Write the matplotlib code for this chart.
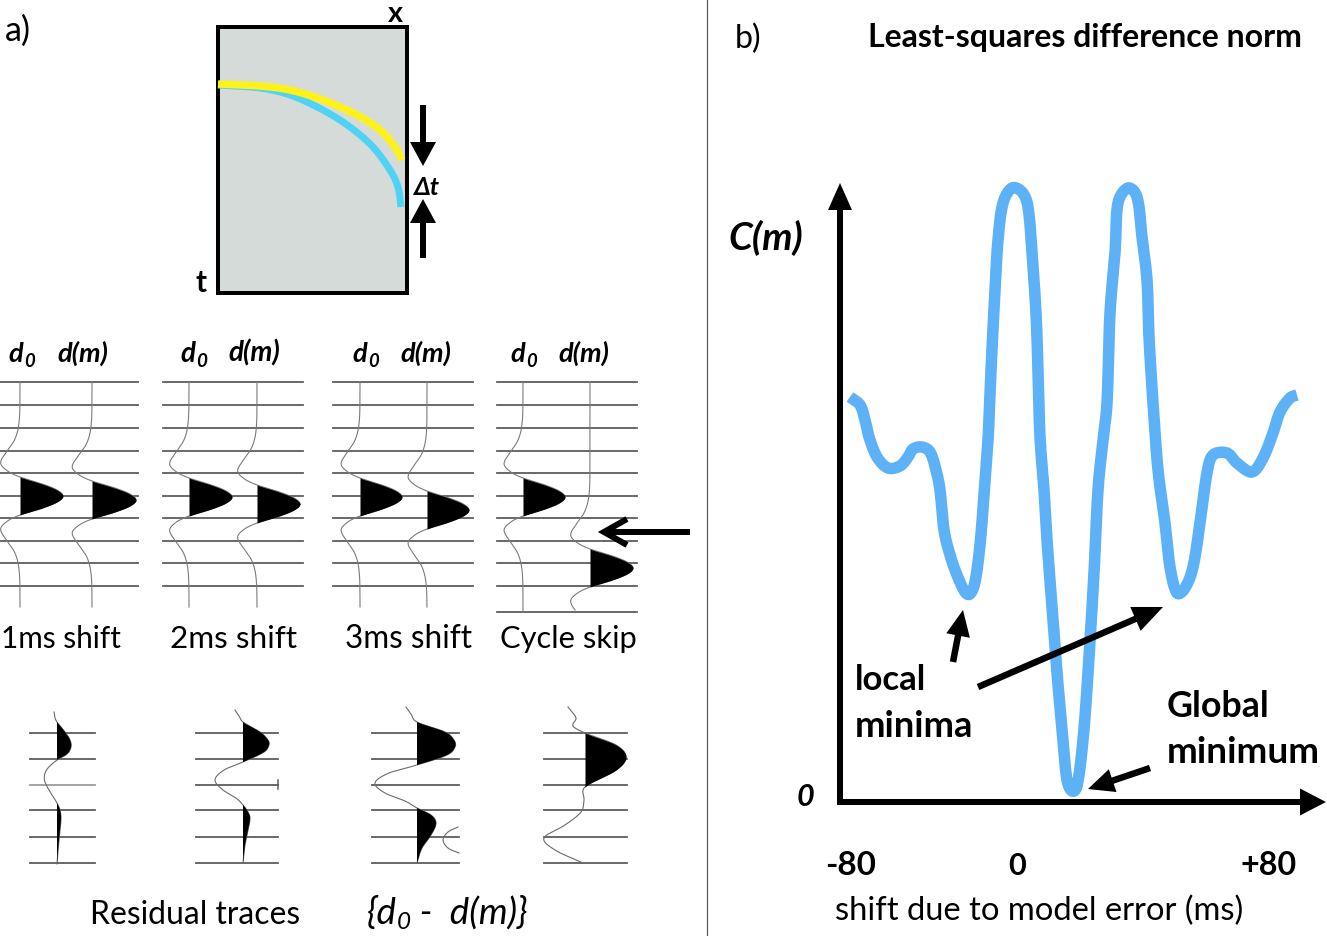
import numpy as np
import matplotlib
matplotlib.use("Agg")
import matplotlib.pyplot as plt
from matplotlib.patches import Polygon, Rectangle

# ------------------------------------------------------------------ data
# Panel b: least-squares misfit curve
# (horizontal position and height, in figure pixels, y measured down)
misfit_x = [850, 860, 865, 869, 877, 888, 900, 908, 913, 922, 930, 936, 940, 944, 950,
            957, 965, 970, 975, 980, 984, 988, 991, 995, 998, 1003, 1012, 1022, 1028, 1032,
            1036, 1038, 1040, 1044, 1047, 1052, 1057, 1063, 1067, 1072, 1077, 1083, 1088, 1094,
            1098, 1103, 1107, 1110, 1115, 1118, 1128, 1137, 1142, 1147, 1149, 1153, 1158, 1165,
            1170, 1177, 1185, 1193, 1200, 1207, 1213, 1227, 1237, 1252, 1263, 1273, 1280, 1290, 1297]
misfit_y = [397, 405, 420, 437, 457, 468, 466, 457, 449, 447, 452, 470, 490, 530, 555,
            575, 592, 594, 582, 545, 495, 440, 370, 290, 240, 203, 188, 192, 207, 253,
            313, 370, 437, 490, 540, 607, 673, 740, 780, 791, 786, 740, 673, 573,
            490, 440, 403, 313, 253, 203, 188, 197, 237, 280, 337, 403, 470, 523,
            567, 593, 588, 567, 523, 473, 455, 453, 463, 472, 458, 433, 412, 398, 395]
shift_tick_labels = ["-80", "0", "+80"]

# Panel a: travel-time curves in the x-t box
obs_curve_x = [218, 260, 290, 323, 357, 380, 395, 402]
obs_curve_y = [84, 86, 90, 100, 115, 130, 147, 160]
mod_curve_x = [218, 260, 290, 323, 350, 373, 390, 398, 401]
mod_curve_y = [85, 88, 95, 110, 127, 147, 170, 187, 207]

# Wavelet shape (time offset from peak, relative amplitude)
wavelet_dt = [-100, -80, -66, -55, -45, -33, -25, -19, -12, -6, 0, 6, 12, 19, 25, 33, 45, 55, 66, 80, 100]
wavelet_amp = [0, -0.01, -0.05, -0.14, -0.30, -0.45, -0.29, 0, 0.52, 0.86, 1, 0.86, 0.52, 0,
               -0.29, -0.45, -0.30, -0.14, -0.05, -0.01, 0]

shift_labels = ["1ms shift", "2ms shift", "3ms shift", "Cycle skip"]
d0_peak = [496, 497, 497, 497]
dm_peak = [500, 504, 510, 568]
d0_gain = [43, 43, 42, 42]
dm_gain = [44, 43, 42, 43]

# Residual traces d0 - d(m): (time, amplitude)
res1_t = [712, 718, 722, 732, 740, 747, 754, 760, 768, 775, 782, 790, 798, 803, 810, 818, 830, 845, 864]
res1_a = [-3, -2, 0, 8, 13, 14, 10, 0, -9, -12.5, -12, -8, -3, 0, 3, 4, 3, 1.5, 0]
res2_t = [710, 716, 722, 732, 740, 745, 752, 762, 770, 780, 790, 798, 805, 812, 818, 830, 845, 863]
res2_a = [-8, -4, 0, 17, 25, 26, 21, 0, -19, -28, -20, -7, 0, 5, 7, 5, 2, 0]
res3_t = [707, 714, 722, 732, 740, 747, 755, 765, 773, 783, 793, 801, 808, 815, 823, 835, 848, 863]
res3_a = [-11, -6, 0, 28, 37, 38, 30, 0, -28, -42, -32, -12, 0, 14, 19, 14, 5, 0]
res4_t = [707, 718, 726, 733, 745, 757, 770, 787, 800, 812, 825, 838, 850, 863]
res4_a = [-17, -9, -12, 0, 31, 41, 31, 0, -1, -4, -20, -41, -30, -2]

# ------------------------------------------------------------------ layout
W, H = 1327, 936
PX = 0.72  # points per pixel at dpi 100
FAM = ['Lato', 'DejaVu Sans']

fig = plt.figure(figsize=(W / 100, H / 100), dpi=100)
ax = fig.add_axes([0, 0, 1, 1])
ax.set_xlim(0, W)
ax.set_ylim(H, 0)
ax.axis('off')
fig.canvas.draw()
R = fig.canvas.get_renderer()


def hermite(t, v, n=400):
    t = np.asarray(t, float)
    v = np.asarray(v, float)
    m = np.zeros_like(v)
    m[1:-1] = (v[2:] - v[:-2]) / (t[2:] - t[:-2])
    m[0] = (v[1] - v[0]) / (t[1] - t[0])
    m[-1] = (v[-1] - v[-2]) / (t[-1] - t[-2])
    tt = np.linspace(t[0], t[-1], n)
    i = np.clip(np.searchsorted(t, tt) - 1, 0, len(t) - 2)
    h = t[i + 1] - t[i]
    s = (tt - t[i]) / h
    h00 = 2 * s**3 - 3 * s**2 + 1
    h10 = s**3 - 2 * s**2 + s
    h01 = -2 * s**3 + 3 * s**2
    h11 = s**3 - s**2
    return tt, h00 * v[i] + h10 * h * m[i] + h01 * v[i + 1] + h11 * h * m[i + 1]


def smooth_path(xs, ys, n=1200):
    xs = np.asarray(xs, float)
    ys = np.asarray(ys, float)
    d = np.hypot(np.diff(xs), np.diff(ys))
    s = np.concatenate([[0], np.cumsum(np.sqrt(d))])
    _, xx = hermite(s, xs, n)
    _, yy = hermite(s, ys, n)
    return xx, yy


def arrow(x0, y0, x1, y1, lw=6, hl=26, hw=26, color='black'):
    d = np.hypot(x1 - x0, y1 - y0)
    ux, uy = (x1 - x0) / d, (y1 - y0) / d
    bx, by = x1 - ux * hl, y1 - uy * hl
    ax.plot([x0, bx + ux * 2], [y0, by + uy * 2], color=color, lw=lw * PX,
            solid_capstyle='butt', zorder=5)
    nx, ny = -uy, ux
    ax.add_patch(Polygon([(x1, y1), (bx + nx * hw / 2, by + ny * hw / 2),
                          (bx - nx * hw / 2, by - ny * hw / 2)], closed=True,
                         facecolor=color, edgecolor='none', zorder=5))


def put(s, x0, x1, base, weight='normal', style='normal', family=FAM, color='black'):
    t = ax.text(x0, base, s, fontsize=10, fontweight=weight, fontstyle=style,
                family=family, ha='left', va='baseline', color=color)
    w = t.get_window_extent(renderer=R).width
    t.set_fontsize(10 * (x1 - x0) / w)
    return t


def width_of(s, size, weight='normal', style='normal'):
    t = ax.text(0, 0, s, fontsize=size, fontweight=weight, fontstyle=style, family=FAM)
    w = t.get_window_extent(renderer=R).width
    t.remove()
    return w


# divider
ax.plot([707, 707], [0, H], color='#555555', lw=1.2 * PX)

# ------------------------------------------------------------------ panel a
put("a)", 5, 31, 41)
ax.add_patch(Rectangle((218, 27), 189, 266, facecolor='#d5dbd9', edgecolor='black',
                       lw=4 * PX, zorder=1))
bx_, by_ = smooth_path(mod_curve_x, mod_curve_y)
ax.plot(bx_, by_, color='#4ed3f5', lw=7 * PX, solid_capstyle='butt', zorder=2)
yx_, yy_ = smooth_path(obs_curve_x, obs_curve_y)
ax.plot(yx_, yy_, color='#fff21a', lw=7.5 * PX, solid_capstyle='butt', zorder=3)
put("x", 388, 403, 22, weight='bold')
put("t", 195, 206, 292, weight='bold')
put("Δt", 413, 439, 195, weight='bold', style='italic')
arrow(423, 105, 423, 166, lw=6, hl=24, hw=26)
arrow(423, 258, 423, 199, lw=6, hl=24, hw=26)

# seismogram panels
wt, wa = hermite(wavelet_dt, wavelet_amp, 800)
panel_x0 = [-2, 163, 333, 497]
panel_x1 = [138, 303, 473, 637]
d0_x = [20, 189, 360, 523]
dm_x = [92, 257, 427, 590]
grid_y = [382, 405, 428, 451, 473, 496, 518, 541, 563, 586]
label_x = [(1, 121), (170, 297), (345, 472), (500, 637)]
d0_lab_x = [8, 180, 352, 510]
dm_lab_x = [(57, 108), (228, 280), (400, 451), (558, 609)]
trace_col = '#7a7a7a'
grid_col = '#5c5c5c'


def draw_wavelet(base, peak, gain, top, bottom):
    tt = np.linspace(top, bottom, 700)
    aa = gain * np.interp(tt - peak, wt, wa, left=0, right=0)
    ax.fill_betweenx(tt, base, base + aa, where=aa > 0, interpolate=True,
                     color='black', lw=0, zorder=4)
    ax.plot(base + aa, tt, color=trace_col, lw=1.1 * PX, zorder=3)


for k in range(4):
    gy = grid_y + ([612] if k == 3 else [])
    for y in gy:
        ax.plot([panel_x0[k], panel_x1[k]], [y, y], color=grid_col, lw=1.8 * PX, zorder=2)
    bot = 612 if k == 3 else 607
    draw_wavelet(d0_x[k], d0_peak[k], d0_gain[k], 382, bot)
    draw_wavelet(dm_x[k], dm_peak[k], dm_gain[k], 382, 610 if k == 3 else 607)
    t = put("d(m)", dm_lab_x[k][0], dm_lab_x[k][1], 362, weight='bold', style='italic')
    S = t.get_fontsize()
    ax.text(d0_lab_x[k], 362, "d", fontsize=S, fontweight='bold', fontstyle='italic',
            family=FAM, ha='left', va='baseline')
    wd = width_of("d", S, 'bold', 'italic')
    ax.text(d0_lab_x[k] + wd + 1, 367, "0", fontsize=S * 0.68, fontweight='bold',
            fontstyle='italic', family=FAM, ha='left', va='baseline')
    put(shift_labels[k], label_x[k][0], label_x[k][1], 648)

# cycle-skip arrow (open head)
ax.plot([690, 606], [532, 532], color='black', lw=6 * PX, solid_capstyle='butt', zorder=5)
ax.plot([627, 604, 627], [519, 532, 545], color='black', lw=6 * PX,
        solid_joinstyle='miter', solid_capstyle='butt', zorder=5)

# residual traces
res_t = [res1_t, res2_t, res3_t, res4_t]
res_a = [res1_a, res2_a, res3_a, res4_a]
res_base = [57, 243, 417, 585]
res_x0 = [30, 196, 372, 544]
res_x1 = [95, 278, 459, 627]
res_grid = [733, 759, 785, 810, 837, 863]
for k in range(4):
    for j, y in enumerate(res_grid):
        c = '#9a9a9a' if (k == 0 and j == 2) else grid_col
        ax.plot([res_x0[k], res_x1[k]], [y, y], color=c, lw=1.8 * PX, zorder=2)
    tt, aa = hermite(res_t[k], res_a[k], 700)
    b = res_base[k]
    ax.fill_betweenx(tt, b, b + aa, where=aa > 0, interpolate=True, color='black',
                     lw=0, zorder=4)
    ax.plot(b + aa, tt, color='#6a6a6a', lw=1.1 * PX, zorder=3)
ax.plot([278, 278], [780, 789], color=grid_col, lw=1.5 * PX)
sx, sy = smooth_path([458, 448, 443, 448, 459], [827, 832, 840, 848, 853])
ax.plot(sx, sy, color='#6a6a6a', lw=1.1 * PX)

put("Residual traces", 90, 300, 924)
# {d0 -  d(m)}
parts = [("{d", 1.0, 0), ("0", 0.66, 5), (" -  d(m)}", 1.0, 0)]
tot = sum(width_of(p, 10 * f, 'normal', 'italic') for p, f, _ in parts)
S = 10 * (528 - 367) / tot
xc = 367
for p, f, dy in parts:
    ax.text(xc, 924 + dy, p, fontsize=S * f, fontstyle='italic', family=FAM,
            ha='left', va='baseline')
    xc += width_of(p, S * f, 'normal', 'italic')

# ------------------------------------------------------------------ panel b
put("b)", 735, 762, 48)
put("Least-squares difference norm", 868, 1305, 47, weight='bold')

# axes
arrow(840, 805, 840, 183, lw=6, hl=27, hw=24)
arrow(837, 802, 1326, 802, lw=6, hl=26, hw=27)
put("C(m)", 728, 803, 250, weight='bold', style='italic')
ax.text(797, 806, "0", fontsize=22, fontweight='bold', fontstyle='italic', family=FAM,
        ha='left', va='baseline')

tick_pos = [(825, 876), (1008, 1026), (1240, 1296)]
for lab, (a0, a1) in zip(shift_tick_labels, tick_pos):
    put(lab, a0, a1, 875, weight='bold')
put("shift due to model error (ms)", 835, 1245, 920)

cx, cy = smooth_path(misfit_x, misfit_y, 3000)
ax.plot(cx, cy, color='#5db1f6', lw=11.5 * PX, solid_capstyle='butt',
        solid_joinstyle='round', zorder=3)

arrow(953, 662, 963, 610, lw=6.5, hl=26, hw=24)
arrow(978, 687, 1163, 607, lw=6.5, hl=30, hw=26)
arrow(1150, 768, 1088, 789, lw=6.5, hl=26, hw=24)

put("local", 855, 927, 690, weight='bold')
put("minima", 855, 973, 737, weight='bold')
put("Global", 1167, 1270, 717, weight='bold')
put("minimum", 1167, 1320, 763, weight='bold')

fig.savefig("out.png", dpi=100)
